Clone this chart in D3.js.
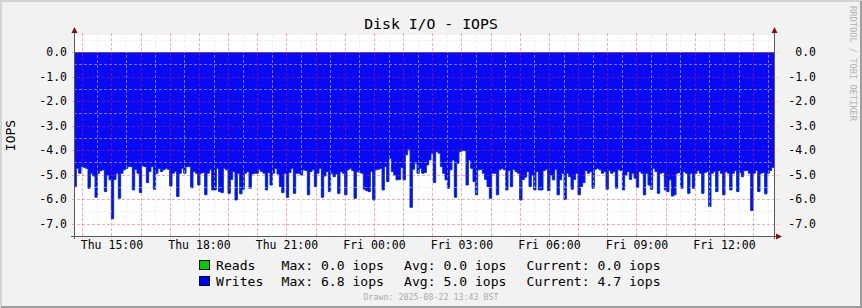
<!DOCTYPE html>
<html>
<head>
<meta charset="utf-8">
<script src="https://cdn.jsdelivr.net/npm/d3@7"></script>
<style>
  body { margin: 0; background: #f2f2f2; }
  svg { display: block; font-family: "DejaVu Sans Mono", monospace; }
</style>
</head>
<body>
<svg id="chart" width="862" height="308"></svg>
<script>
// writes, iops per 5 min sample (drawn negative)
const writes = [
  5.48,4.74,4.94,4.67,4.70,4.74,5.55,4.94,5.05,5.92, 4.94,4.83,4.80,5.69,5.01,5.21,6.80,5.19,4.94,5.96,
  4.94,4.80,4.74,4.67,4.67,5.62,4.78,4.94,5.73,4.64, 4.67,5.32,4.87,4.67,5.59,4.94,4.74,4.87,4.80,4.74,
  4.78,5.46,4.94,4.87,5.89,4.94,4.74,4.94,4.67,4.67, 5.53,4.87,4.94,5.42,4.94,4.91,5.82,4.94,4.80,5.62,
  5.62,4.74,5.69,5.73,4.74,4.80,5.76,5.19,4.87,6.03, 4.94,5.78,5.59,4.94,4.87,5.55,4.97,4.94,4.94,4.80,
  4.87,4.94,5.62,4.91,5.42,4.94,4.74,4.97,5.48,5.73, 4.94,5.92,4.91,4.74,5.76,4.94,4.94,5.01,4.80,4.83,
  5.82,4.87,4.80,5.48,4.94,4.74,5.92,5.05,4.87,5.69, 4.94,5.08,4.97,5.76,4.87,4.94,5.82,4.80,4.74,4.83,
  5.96,4.87,4.91,4.94,5.59,5.65,5.69,4.87,6.03,4.80, 4.78,4.74,5.62,4.67,5.28,4.33,4.87,5.01,5.21,5.19,
  4.70,5.21,4.19,3.96,6.33,4.78,4.53,4.94,4.74,4.94, 4.91,4.60,4.40,4.12,5.32,4.06,4.12,4.67,4.94,5.21,
  5.55,4.80,4.40,5.92,4.53,4.06,4.02,4.02,5.42,4.40, 4.74,5.28,5.82,4.80,4.78,4.94,5.19,5.48,5.96,4.94,
  4.94,5.82,4.80,4.74,4.80,5.62,4.83,5.48,4.78,4.87, 4.94,6.03,5.19,5.10,4.87,5.48,5.01,5.62,4.87,5.62,
  5.62,4.83,4.78,5.65,5.01,5.21,4.78,5.82,5.21,4.94, 6.00,4.94,5.08,5.59,5.19,4.94,5.82,5.48,5.32,4.83,
  4.94,4.87,5.55,4.78,4.74,4.80,4.94,4.87,5.59,4.83, 4.94,4.87,5.55,4.80,4.83,5.62,5.01,4.87,5.19,4.94,
  5.14,5.51,4.87,4.94,5.82,4.94,5.42,5.59,4.74,4.87, 5.76,4.94,4.91,5.62,5.69,5.21,5.87,5.82,4.94,4.91,
  5.55,4.87,4.94,5.76,4.94,5.55,4.94,4.83,4.94,5.76, 4.91,4.87,6.30,4.94,4.87,5.69,4.83,4.94,5.82,4.87,
  4.94,5.62,4.94,4.83,5.69,4.91,5.08,4.83,4.83,4.94, 6.46,4.94,4.83,5.69,4.94,4.91,5.78,4.94,4.83,4.70
];

const yTicks = [0, -1, -2, -3, -4, -5, -6, -7];
const startTime = Date.UTC(2025, 7, 21, 13, 43);
const endTime = Date.UTC(2025, 7, 22, 13, 43);

const legendNames = ["Reads", "Writes"];
const legendColors = ["#00cc00", "#0000ff"];
const legendMax = ["0.0", "6.8"];
const legendAvg = ["0.0", "5.0"];
const legendCur = ["0.0", "4.7"];

const W = 862, H = 308;
const plotL = 74, plotR = 774, plotT = 35, plotB = 236;

const svg = d3.select("#chart");

// frame
svg.append("rect").attr("width", W).attr("height", H).attr("fill", "#f2f2f2");
svg.append("path").attr("d", `M1,${H} V1 H${W}`).attr("fill", "none")
  .attr("stroke", "#d4d4d4").attr("stroke-width", 2);
svg.append("path").attr("d", `M1,${H - 1} H${W - 1} V1`).attr("fill", "none")
  .attr("stroke", "#9e9e9e").attr("stroke-width", 2);

const x = d3.scaleUtc().domain([startTime, endTime]).range([plotL, plotR]);
const y = d3.scaleLinear().domain([-7.5, 0.7]).range([plotB, plotT]);

svg.append("rect").attr("x", plotL).attr("y", plotT)
  .attr("width", plotR - plotL).attr("height", plotB - plotT).attr("fill", "#fff");

// data: samples spread evenly over the time window
const step = (endTime - startTime) / writes.length;
const pts = writes.map((v, i) => ({ t: new Date(startTime + i * step), v }));
pts.push({ t: new Date(endTime), v: writes[writes.length - 1] });

const area = d3.area()
  .x(d => x(d.t))
  .y0(y(0))
  .y1(d => y(-d.v))
  .curve(d3.curveStepAfter);

const line = d3.line()
  .x(d => x(d.t))
  .y(d => y(-d.v))
  .curve(d3.curveStepAfter);

svg.append("path").datum(pts).attr("d", area).attr("fill", "#0a0af2");
svg.append("path").datum(pts).attr("d", line).attr("fill", "none")
  .attr("stroke", "#0032c4").attr("stroke-width", 1);

// grid on top of the data
const grid = svg.append("g").attr("shape-rendering", "crispEdges");
const hours = x.ticks(d3.utcHour.every(1));
const halfHours = x.ticks(d3.utcMinute.every(30)).filter(d => d.getUTCMinutes() === 30);
const minorY = d3.range(-7.5, 0.6, 0.5).filter(v => Math.abs(v % 1) > 0.1);

grid.selectAll(".vmin").data(halfHours).enter().append("line")
  .attr("x1", d => Math.round(x(d)) + 0.5).attr("x2", d => Math.round(x(d)) + 0.5)
  .attr("y1", plotT).attr("y2", plotB)
  .attr("stroke", "rgba(225,225,245,0.5)").attr("stroke-dasharray", "3,2");
grid.selectAll(".hmin").data(minorY).enter().append("line")
  .attr("x1", plotL).attr("x2", plotR)
  .attr("y1", d => Math.round(y(d)) + 0.5).attr("y2", d => Math.round(y(d)) + 0.5)
  .attr("stroke", "rgba(225,225,245,0.5)").attr("stroke-dasharray", "3,2");
grid.selectAll(".vmaj").data(hours).enter().append("line")
  .attr("x1", d => Math.round(x(d)) + 0.5).attr("x2", d => Math.round(x(d)) + 0.5)
  .attr("y1", plotT - 2).attr("y2", plotB + 3)
  .attr("stroke", "rgba(240,40,40,0.38)").attr("stroke-dasharray", "3,2");
grid.selectAll(".hmaj").data(yTicks).enter().append("line")
  .attr("x1", plotL - 2).attr("x2", plotR + 4)
  .attr("y1", d => Math.round(y(d)) + 0.5).attr("y2", d => Math.round(y(d)) + 0.5)
  .attr("stroke", "rgba(240,40,40,0.38)").attr("stroke-dasharray", "3,2");

// axes
const fmt = d => d.toFixed(1);
const yl = svg.append("g").attr("transform", `translate(${plotL},0)`)
  .call(d3.axisLeft(y).tickValues(yTicks).tickFormat(fmt).tickSize(0).tickPadding(7));
const yr = svg.append("g").attr("transform", `translate(${plotR},0)`)
  .call(d3.axisRight(y).tickValues(yTicks).tickFormat(fmt).tickSize(0));
yr.selectAll("text").attr("text-anchor", "end").attr("x", 42);
const xa = svg.append("g").attr("transform", `translate(0,${plotB})`)
  .call(d3.axisBottom(x).ticks(d3.utcHour.every(3)).tickFormat(d3.utcFormat("%a %H:%M")).tickSize(0));
xa.selectAll("text").attr("y", 12.5).attr("dy", null);
[yl, yr, xa].forEach(g => {
  g.select(".domain").remove();
  g.selectAll("text").attr("font-family", "DejaVu Sans Mono").attr("font-size", 11.5).attr("fill", "#000");
});

const ax = svg.append("g").attr("stroke", "#5a5a5a").attr("stroke-width", 1).attr("shape-rendering", "crispEdges");
ax.append("line").attr("x1", plotL + 0.5).attr("x2", plotL + 0.5).attr("y1", plotB + 3).attr("y2", plotT - 5);
ax.append("line").attr("x1", plotR + 0.5).attr("x2", plotR + 0.5).attr("y1", plotB + 3).attr("y2", plotT - 5);
ax.append("line").attr("x1", plotL - 3).attr("x2", plotR + 4).attr("y1", plotB + 0.5).attr("y2", plotB + 0.5);
const arrow = "#7f1010";
svg.append("path").attr("d", `M${plotL - 2.5},${plotT - 2} L${plotL + 3.5},${plotT - 2} L${plotL + 0.5},${plotT - 8} Z`).attr("fill", arrow);
svg.append("path").attr("d", `M${plotR - 2.5},${plotT - 2} L${plotR + 3.5},${plotT - 2} L${plotR + 0.5},${plotT - 8} Z`).attr("fill", arrow);
svg.append("path").attr("d", `M${plotR + 2},${plotB - 2.5} L${plotR + 2},${plotB + 3.5} L${plotR + 8},${plotB + 0.5} Z`).attr("fill", arrow);

// titles
svg.append("text").attr("x", 431).attr("y", 29).attr("text-anchor", "middle")
  .attr("font-size", 14.8).text("Disk I/O - IOPS");
svg.append("text").attr("transform", `translate(15,${(plotT + plotB) / 2}) rotate(-90)`)
  .attr("text-anchor", "middle").attr("font-size", 13).text("IOPS");
svg.append("text").attr("transform", "translate(850,6) rotate(90)")
  .attr("font-size", 8.7).attr("fill", "#b4b4b4").text("RRDTOOL / TOBI OETIKER");

// legend
const rowY = [270, 286];
legendNames.forEach((name, i) => {
  const g = svg.append("g").attr("font-size", 13.1);
  g.append("rect").attr("x", 199.5).attr("y", rowY[i] - 9.5).attr("width", 10).attr("height", 9)
    .attr("fill", legendColors[i]).attr("stroke", "#000");
  g.append("text").attr("x", 216).attr("y", rowY[i]).text(name);
  g.append("text").attr("x", 281.5).attr("y", rowY[i]).text(`Max: ${legendMax[i]} iops`);
  g.append("text").attr("x", 404).attr("y", rowY[i]).text(`Avg: ${legendAvg[i]} iops`);
  g.append("text").attr("x", 526.5).attr("y", rowY[i]).text(`Current: ${legendCur[i]} iops`);
});
svg.append("text").attr("x", 431).attr("y", 300).attr("text-anchor", "middle")
  .attr("font-size", 8.3).attr("fill", "#aaa").text("Drawn: 2025-08-22 13:43 BST");
</script>
</body>
</html>
